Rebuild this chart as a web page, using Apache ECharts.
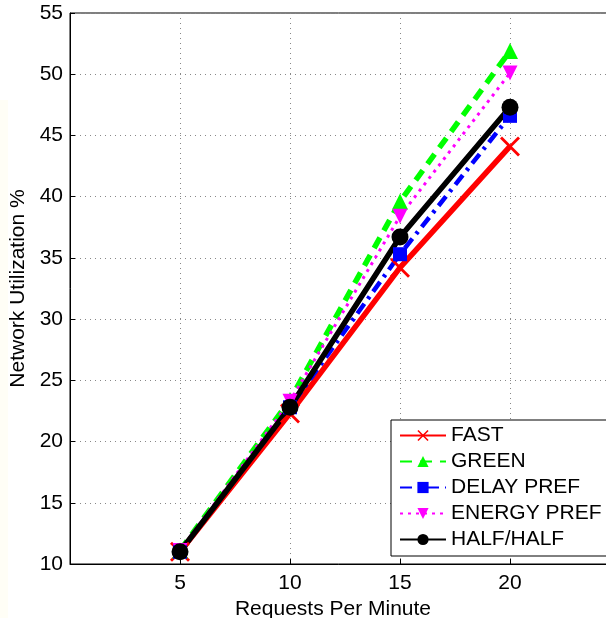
<!DOCTYPE html>
<html>
<head>
<meta charset="utf-8">
<script src="https://cdn.jsdelivr.net/npm/echarts@6/dist/echarts.min.js"></script>
<style>
html,body{margin:0;padding:0;background:#fff;}
#chart{width:606px;height:618px;}
</style>
</head>
<body>
<div id="chart"></div>
<script>
var xValues = [5, 10, 15, 20];
var seriesNames = ['FAST', 'GREEN', 'DELAY PREF', 'ENERGY PREF', 'HALF/HALF'];
var fastValues = [11.0, 22.3, 34.2, 44.1];
var greenValues = [11.1, 23.4, 39.6, 51.9];
var delayValues = [11.0, 22.8, 35.3, 46.6];
var energyValues = [11.1, 23.3, 38.4, 50.1];
var halfValues = [11.0, 22.8, 36.7, 47.3];
var yTicks = [10, 15, 20, 25, 30, 35, 40, 45, 50, 55];
var xTicks = [5, 10, 15, 20];

function pairs(vals) {
  return xValues.map(function (x, i) { return [x, vals[i]]; });
}

var xPath = 'path://M0,2L2,0L10,8L18,0L20,2L12,10L20,18L18,20L10,12L2,20L0,18L8,10Z';
var font = 'Liberation Sans, Arial, Helvetica, sans-serif';
var fs = 21;

var chart = echarts.init(document.getElementById('chart'), null, {renderer: 'canvas'});
chart.setOption({
  animation: false,
  backgroundColor: '#fff',
  textStyle: {fontFamily: font},
  graphic: [{
    type: 'rect', left: 0, top: 100, z: -10,
    shape: {width: 8, height: 518},
    style: {fill: '#fffef6'}
  }],
  grid: {left: 70, top: 13, height: 551, width: 550, show: true, borderColor: '#000', borderWidth: 1,
         outerBoundsMode: 'none', containLabel: false},
  legend: {
    left: 391, top: 420, orient: 'vertical',
    backgroundColor: '#fff', borderColor: '#000', borderWidth: 1,
    padding: [5, 30, 6, 8],
    itemGap: 5, itemWidth: 46, itemHeight: 14,
    textStyle: {fontSize: fs, color: '#000', fontFamily: font, lineHeight: 21},
    data: seriesNames
  },
  xAxis: {
    type: 'value', min: 0, max: 25, interval: 5,
    name: 'Requests Per Minute', nameLocation: 'middle', nameGap: 29,
    nameTextStyle: {fontSize: fs, color: '#000', fontFamily: font, padding: [0, 24, 0, 0]},
    axisLine: {show: true, lineStyle: {color: '#000', width: 1}},
    axisTick: {show: true, inside: true, length: 5, lineStyle: {color: '#000'}},
    axisLabel: {fontSize: fs, color: '#000', margin: 9, fontFamily: font,
      formatter: function (v) { return xTicks.indexOf(v) >= 0 ? String(v) : ''; }},
    splitLine: {show: true, lineStyle: {color: '#888', type: [1, 4], width: 1}}
  },
  yAxis: {
    type: 'value', min: 10, max: 55, interval: 5,
    name: 'Network Utilization %', nameLocation: 'middle', nameGap: 37,
    nameTextStyle: {fontSize: fs, color: '#000', fontFamily: font},
    axisLine: {show: true, lineStyle: {color: '#000', width: 1}},
    axisTick: {show: true, inside: true, length: 5, lineStyle: {color: '#000'}},
    axisLabel: {fontSize: fs, color: '#000', margin: 7, fontFamily: font,
      formatter: function (v) { return yTicks.indexOf(v) >= 0 ? String(v) : ''; }},
    splitLine: {show: true, lineStyle: {color: '#888', type: [1, 4], width: 1}}
  },
  series: [
    {
      name: 'FAST', type: 'line', data: pairs(fastValues),
      symbol: xPath, symbolSize: 20,
      lineStyle: {color: '#ff0000', width: 5.5, type: 'solid'},
      itemStyle: {color: '#ff0000'}
    },
    {
      name: 'GREEN', type: 'line', data: pairs(greenValues),
      symbol: 'triangle', symbolSize: 16,
      lineStyle: {color: '#00ff00', width: 5.5, type: [12, 8]},
      itemStyle: {color: '#00ff00'}
    },
    {
      name: 'DELAY PREF', type: 'line', data: pairs(delayValues),
      symbol: 'rect', symbolSize: 14,
      lineStyle: {color: '#0000ff', width: 4.5, type: [12, 6, 3, 6]},
      itemStyle: {color: '#0000ff'}
    },
    {
      name: 'ENERGY PREF', type: 'line', data: pairs(energyValues),
      symbol: 'triangle', symbolRotate: 180, symbolSize: 15,
      lineStyle: {color: '#ff00ff', width: 3, type: [3, 5]},
      itemStyle: {color: '#ff00ff'}
    },
    {
      name: 'HALF/HALF', type: 'line', data: pairs(halfValues),
      symbol: 'circle', symbolSize: 17,
      lineStyle: {color: '#000000', width: 5.5, type: 'solid'},
      itemStyle: {color: '#000000'}
    }
  ]
});
</script>
</body>
</html>
